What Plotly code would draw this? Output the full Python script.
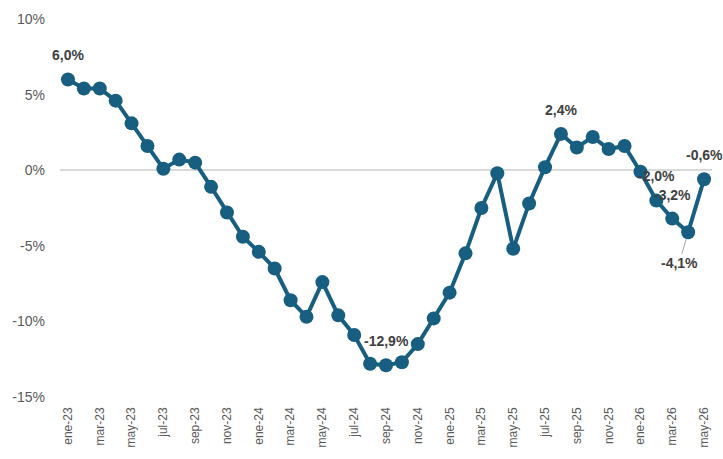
import plotly.graph_objects as go

months = ["ene", "feb", "mar", "abr", "may", "jun", "jul", "ago", "sep", "oct", "nov", "dic"]
categories = []
for yr in ["23", "24", "25", "26"]:
    for m in months:
        categories.append(f"{m}-{yr}")
categories = categories[:41]  # ene-23 .. may-26

values = [6.0, 5.4, 5.4, 4.6, 3.1, 1.6, 0.1, 0.7, 0.5, -1.1, -2.8, -4.4,
          -5.4, -6.5, -8.6, -9.7, -7.4, -9.6, -10.9, -12.8, -12.9, -12.7, -11.5, -9.8,
          -8.1, -5.5, -2.5, -0.2, -5.2, -2.2, 0.2, 2.4, 1.5, 2.2, 1.4, 1.6,
          -0.1, -2.0, -3.2, -4.1, -0.6]

labelled = ["ene-23", "sep-24", "ago-25", "feb-26", "mar-26", "may-26"]
below_labelled = ["abr-26"]

tick_vals = categories[::2]
y_ticks = [-15, -10, -5, 0, 5, 10]
y_tick_text = ["-15%", "-10%", "-5%", "0%", "5%", "10%"]

line_color = "#175E80"

def fmt(v):
    return f"{v:.1f}".replace(".", ",") + "%"

fig = go.Figure()
fig.add_trace(go.Scatter(
    x=categories, y=values, mode="lines+markers",
    line=dict(color=line_color, width=4),
    marker=dict(color=line_color, size=14),
    hoverinfo="skip", cliponaxis=False,
))

annots = []
for c in labelled:
    v = values[categories.index(c)]
    annots.append(dict(x=c, y=v, text=fmt(v), showarrow=False, yshift=24,
                       font=dict(family="Liberation Sans, Arial", size=14, color="#404040", weight="bold")))
for c in below_labelled:
    v = values[categories.index(c)]
    annots.append(dict(x=c, y=v, text=fmt(v), showarrow=True, ax=-9, ay=31,
                       arrowhead=0, arrowwidth=1, arrowcolor="#A6A6A6", standoff=7,
                       font=dict(family="Liberation Sans, Arial", size=14, color="#404040", weight="bold")))

fig.update_layout(
    width=723, height=459,
    margin=dict(l=60, r=11, t=19, b=62),
    paper_bgcolor="white", plot_bgcolor="white",
    showlegend=False,
    annotations=annots,
    font=dict(family="Liberation Sans, Arial", color="#595959"),
)
fig.update_xaxes(
    type="category", categoryorder="array", categoryarray=categories,
    range=[-0.5, len(categories) - 0.5],
    tickmode="array", tickvals=tick_vals, ticktext=tick_vals,
    tickangle=-90, tickfont=dict(size=12, color="#595959"),
    showgrid=False, zeroline=False, showline=False, ticks="", ticklen=0,
    ticklabelstandoff=7, automargin=False,
)
fig.update_yaxes(
    range=[-15, 10], tickmode="array", tickvals=y_ticks, ticktext=y_tick_text,
    tickfont=dict(size=14, color="#595959"),
    showgrid=False, zeroline=True, zerolinecolor="#D9D9D9", zerolinewidth=1.5,
    showline=False, ticks="", ticklabelstandoff=14, automargin=False,
)

fig.write_html("out.html", config={"displayModeBar": False},
               post_script="document.body.style.margin='0';")
